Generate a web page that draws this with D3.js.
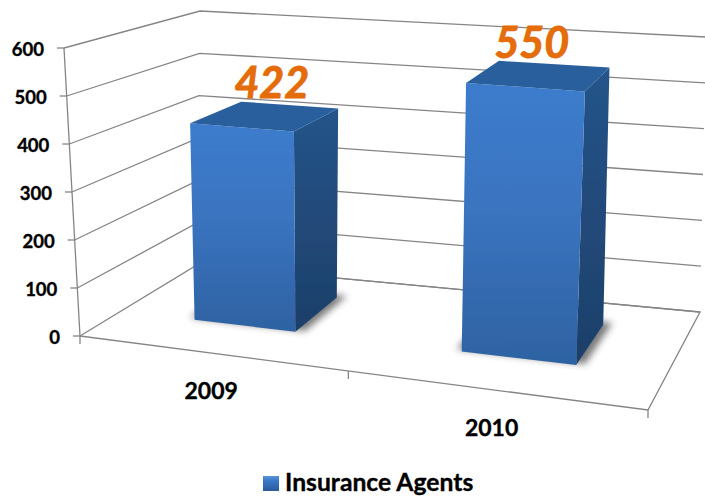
<!DOCTYPE html>
<html>
<head>
<meta charset="utf-8">
<script src="https://d3js.org/d3.v7.min.js"></script>
<style>
  html, body { margin: 0; padding: 0; background: #fff; }
  svg { display: block; }
  text { font-family: Lato, "Open Sans", sans-serif; font-weight: 700; fill: #000; stroke: #000; stroke-width: 0.35; }
</style>
</head>
<body>
<script>
// data
const categories = ["2009", "2010"];
const agents     = [422, 550];
const yTicks     = [0, 100, 200, 300, 400, 500, 600];
const seriesName = "Insurance Agents";

const width  = 705;
const height = 498;

// corners of the 3d box as they land on the page, f/b = front/back, l/r = left/right
const floor = { fl: [80, 336], fr: [648, 410], br: [700, 312], bl: [197, 265] };
const roof  = { fl: [64, 48],  fr: [665, 92],  br: [706, 37],  bl: [200, 11] };

// u runs along the categories, d runs front to back, h is the value
const band = d3.scaleBand().domain(categories).range([-0.02, 0.96]).paddingInner(0.6).paddingOuter(0.3);
const h = d3.scaleLinear().domain([0, 600]).range([0, 1]);
const barDepth = [0.35, 0.78];

// the box is not a true bilinear patch, this pulls the bar edges back on to the picture
const warp = d3.scaleLinear()
  .domain([-0.02, 0.127, 0.323, 0.617, 0.813, 0.96])
  .range([-0.02, 0.135, 0.32, 0.625, 0.835, 0.96]);
const uLeft  = c => warp(band(c));
const uRight = c => warp(band(c) + band.bandwidth());
const uMid   = c => (uLeft(c) + uRight(c)) / 2;

function project(uu, dd, value) {
  const t = h(value);
  const mix = (a, b, k) => a + (b - a) * k;
  const corner = (c, i) => mix(mix(c.fl[i], c.fr[i], uu), mix(c.bl[i], c.br[i], uu), dd);
  return [0, 1].map(i => mix(corner(floor, i), corner(roof, i), t));
}

const line = d3.line();

const svg = d3.select("body").append("svg")
  .attr("width", width)
  .attr("height", height);

const defs = svg.append("defs");

function addGradient(id, stops) {
  const g = defs.append("linearGradient").attr("id", id)
    .attr("x1", 0).attr("y1", 0).attr("x2", 0).attr("y2", 1);
  stops.forEach(s => g.append("stop").attr("offset", s[0]).attr("stop-color", s[1]));
}
addGradient("front", [[0, "#3c7ccd"], [0.45, "#3a74c0"], [1, "#2e62a2"]]);
addGradient("side",  [[0, "#25548a"], [1, "#1d3f69"]]);
addGradient("swatch", [[0, "#5a93d8"], [0.3, "#3b7acb"], [1, "#2a5a97"]]);

defs.append("filter").attr("id", "soft")
  .append("feGaussianBlur").attr("stdDeviation", 0.45);
defs.append("filter").attr("id", "shadow")
  .attr("x", "-30%").attr("y", "-60%").attr("width", "160%").attr("height", "220%")
  .append("feGaussianBlur").attr("stdDeviation", 3.5);

// walls and floor
const grid = svg.append("g")
  .attr("fill", "none")
  .attr("stroke", "#858585")
  .attr("stroke-width", 1.3)
  .attr("filter", "url(#soft)");

yTicks.forEach(v => {
  grid.append("path").attr("d", line([project(0, 0, v), project(0, 1, v), project(1, 1, v)]));
  const p = project(0, 0, v);
  grid.append("path").attr("d", line([[p[0] - 7, p[1]], p]));
});
grid.append("path").attr("d", line([project(0, 0, 0), project(0, 0, 600)]));
grid.append("path").attr("d", line([project(0, 1, 0), project(1, 1, 0), project(1, 0, 0), project(0, 0, 0)]));

// category ticks hang under the front edge
[0, warp(-0.02 + band.step()), 1].forEach(t => {
  const p = project(t, 0, 0);
  grid.append("path").attr("d", line([p, [p[0], p[1] + 8]]));
});

// bars
const barGroups = svg.append("g").selectAll("g")
  .data(categories.map((c, i) => ({ c, v: agents[i] })))
  .join("g");

barGroups.append("path")
  .attr("fill", "#303030")
  .attr("opacity", 0.65)
  .attr("filter", "url(#shadow)")
  .attr("d", b => {
    const u0 = uLeft(b.c) - 0.012, u1 = uRight(b.c) + 0.014;
    const d0 = barDepth[0] + 0.02, d1 = barDepth[1] + 0.03;
    return line([project(u0, d0, 0), project(u1, d0, 0), project(u1, d1, 0), project(u0, d1, 0)]) + "Z";
  });

const faces = barGroups.append("g").attr("filter", "url(#soft)");

// right side
faces.append("path")
  .attr("fill", "url(#side)")
  .attr("d", b => line([project(uRight(b.c), barDepth[0], b.v), project(uRight(b.c), barDepth[1], b.v),
                        project(uRight(b.c), barDepth[1], 0), project(uRight(b.c), barDepth[0], 0)]) + "Z");

// front
faces.append("path")
  .attr("fill", "url(#front)")
  .attr("d", b => line([project(uLeft(b.c), barDepth[0], b.v), project(uRight(b.c), barDepth[0], b.v),
                        project(uRight(b.c), barDepth[0], 0), project(uLeft(b.c), barDepth[0], 0)]) + "Z");

// top
faces.append("path")
  .attr("fill", "#2b5e9d")
  .attr("d", b => line([project(uLeft(b.c), barDepth[0], b.v), project(uRight(b.c), barDepth[0], b.v),
                        project(uRight(b.c), barDepth[1], b.v), project(uLeft(b.c), barDepth[1], b.v)]) + "Z");

// value labels sit over the top of each bar
const labelShift = { "2009": 6, "2010": -8 };
barGroups.append("text")
  .attr("text-anchor", "middle")
  .attr("font-size", 43)
  .attr("font-style", "italic")
  .style("fill", "#e46c0a")
  .style("stroke", "#e46c0a")
  .style("stroke-width", 0.9)
  .attr("x", b => project(uMid(b.c), (barDepth[0] + barDepth[1]) / 2, b.v)[0] + labelShift[b.c])
  .attr("y", b => project(uMid(b.c), (barDepth[0] + barDepth[1]) / 2, b.v)[1] - 18)
  .text(b => b.v);

// value axis labels
svg.append("g").selectAll("text")
  .data(yTicks)
  .join("text")
  .attr("text-anchor", "end")
  .attr("font-size", 18.5)
  .attr("x", v => project(0, 0, v)[0] - 20)
  .attr("y", v => project(0, 0, v)[1] + 8)
  .text(v => v);

// category labels
const catShift = { "2009": 2, "2010": -3 };
svg.append("g").selectAll("text")
  .data(categories)
  .join("text")
  .attr("text-anchor", "middle")
  .attr("font-size", 23)
  .attr("x", c => project(uMid(c), 0, 0)[0] + catShift[c])
  .attr("y", c => project(uMid(c), 0, 0)[1] + 46)
  .text(c => c);

// legend
svg.append("rect")
  .attr("x", 263).attr("y", 476)
  .attr("width", 16).attr("height", 15)
  .attr("fill", "url(#swatch)");
svg.append("text")
  .attr("x", 285).attr("y", 491)
  .attr("font-size", 24.7)
  .text(seriesName);
</script>
</body>
</html>
